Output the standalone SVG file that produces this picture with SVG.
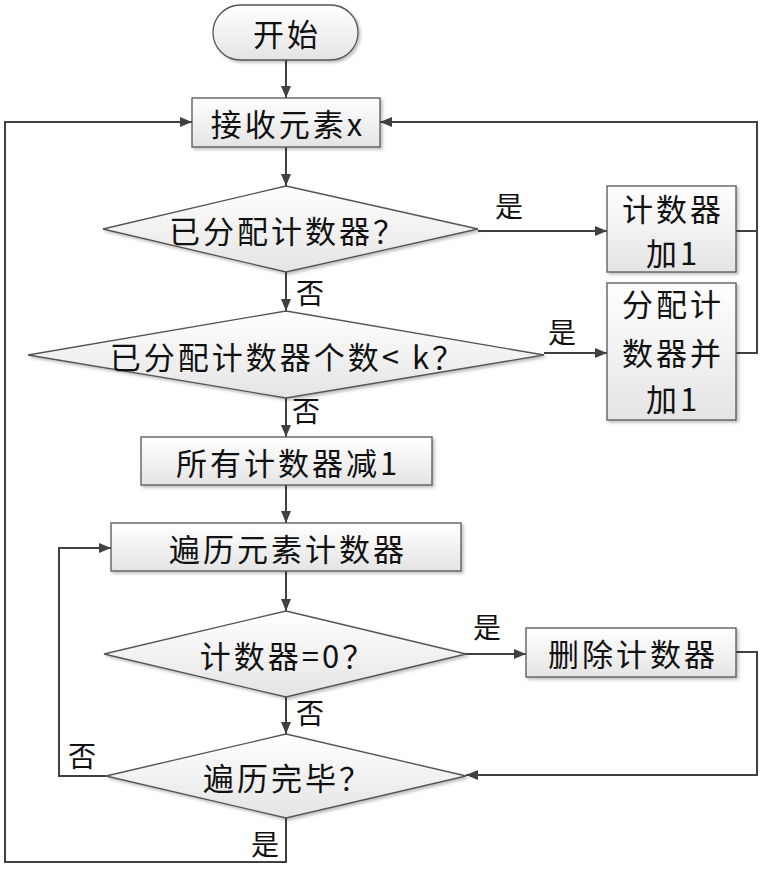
<svg xmlns="http://www.w3.org/2000/svg" width="764" height="871" viewBox="0 0 764 871">
<defs>
<linearGradient id="g" x1="0" y1="0" x2="0" y2="1">
<stop offset="0" stop-color="#ffffff"/>
<stop offset="1" stop-color="#e4e4e4"/>
</linearGradient>
<filter id="sh" x="-10%" y="-10%" width="130%" height="140%">
<feDropShadow dx="2" dy="2" stdDeviation="1.5" flood-color="#000" flood-opacity="0.25"/>
</filter>
<marker id="ah" viewBox="0 0 12 10" refX="12" refY="5" markerWidth="12" markerHeight="10" markerUnits="userSpaceOnUse" orient="auto">
<path d="M0,0 L12,5 L0,10 z" fill="#404040"/>
</marker>
</defs>
<style>
.n{fill:url(#g);stroke:#555;stroke-width:1.3;filter:url(#sh)}
.t{font-family:"Noto Sans CJK SC","Liberation Sans",sans-serif;font-size:31px;letter-spacing:3px;fill:#111;text-anchor:middle;dominant-baseline:central}
.l{font-family:"Noto Sans CJK SC","Liberation Sans",sans-serif;font-size:28px;fill:#111;text-anchor:middle;dominant-baseline:central}
.c{fill:none;stroke:#404040;stroke-width:2}
.a{marker-end:url(#ah)}
</style>
<g id="connectors">
<path class="c a" d="M286,60 V98"/>
<path class="c a" d="M286,147 V186"/>
<path class="c a" d="M478,231 H607"/>
<path class="c a" d="M286,272 V311"/>
<path class="c a" d="M544,353 H607"/>
<path class="c" d="M736,231 H757"/>
<path class="c a" d="M736,353 H757 V122 H380"/>
<path class="c a" d="M286,398 V437"/>
<path class="c a" d="M286,485 V523"/>
<path class="c a" d="M286,571 V611"/>
<path class="c a" d="M466,654 H526"/>
<path class="c a" d="M736,652 H757 V775 H466"/>
<path class="c a" d="M286,697 V734"/>
<path class="c a" d="M106,776 H59 V548 H111"/>
<path class="c a" d="M286,818 V862 H5 V122 H192"/>
<text class="l" x="509" y="205">是</text>
<text class="l" x="310" y="292">否</text>
<text class="l" x="562" y="331">是</text>
<text class="l" x="306" y="410">否</text>
<text class="l" x="487" y="626">是</text>
<text class="l" x="310" y="712">否</text>
<text class="l" x="82" y="755">否</text>
<text class="l" x="265" y="843">是</text>
</g>
<g id="start">
<rect class="n" x="213" y="5" width="145" height="55" rx="27.5"/>
<text class="t" x="287" y="32">开始</text>
</g>
<g id="receive">
<rect class="n" x="192" y="98" width="188" height="49"/>
<text class="t" x="288" y="122">接收元素x</text>
</g>
<g id="d1">
<polygon class="n" points="286,186 478,229 286,272 103,229"/>
<text class="t" x="288" y="229">已分配计数器？</text>
</g>
<g id="inc">
<rect class="n" x="607" y="186" width="129" height="86"/>
<text class="t" x="673" y="207">计数器</text>
<text class="t" x="673" y="251">加1</text>
</g>
<g id="d2">
<polygon class="n" points="286,311 544,355 286,398 28,355"/>
<text class="t" x="288" y="355">已分配计数器个数&lt; k？</text>
</g>
<g id="alloc">
<rect class="n" x="607" y="283" width="129" height="137"/>
<text class="t" x="673" y="302">分配计</text>
<text class="t" x="673" y="351">数器并</text>
<text class="t" x="673" y="397">加1</text>
</g>
<g id="dec">
<rect class="n" x="141" y="437" width="291" height="48"/>
<text class="t" x="288" y="461">所有计数器减1</text>
</g>
<g id="iter">
<rect class="n" x="111" y="523" width="350" height="48"/>
<text class="t" x="288" y="547">遍历元素计数器</text>
</g>
<g id="d3">
<polygon class="n" points="286,611 466,654 286,697 104,654"/>
<text class="t" x="288" y="654">计数器=0？</text>
</g>
<g id="del">
<rect class="n" x="526" y="628" width="210" height="49"/>
<text class="t" x="633" y="652">删除计数器</text>
</g>
<g id="d4">
<polygon class="n" points="286,734 466,776 286,818 106,776"/>
<text class="t" x="288" y="776">遍历完毕？</text>
</g>
</svg>
